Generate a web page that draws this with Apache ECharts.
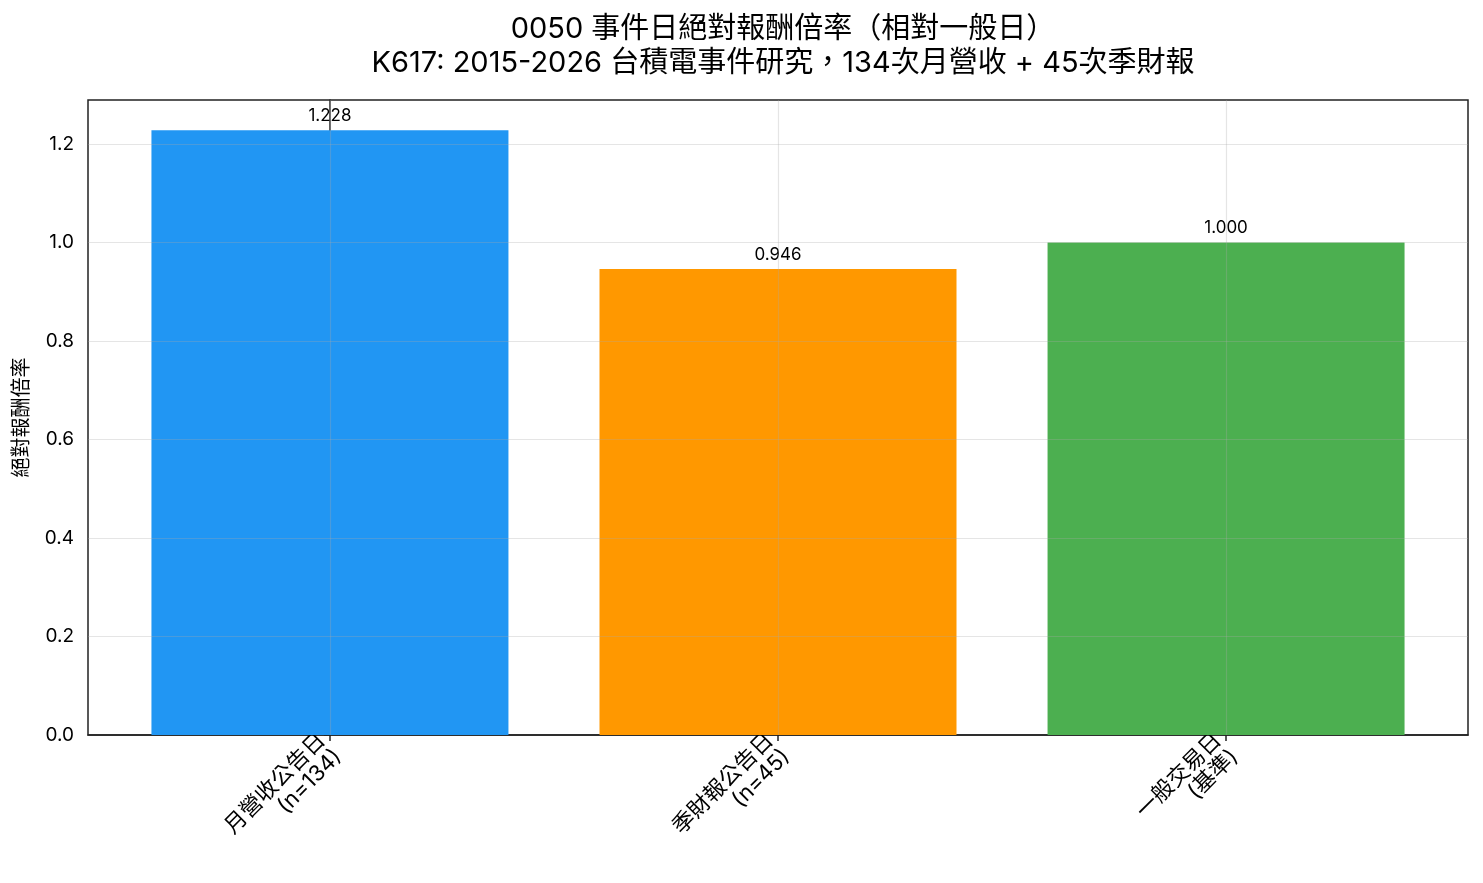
<!DOCTYPE html>
<html>
<head>
<meta charset="utf-8">
<script src="https://cdn.jsdelivr.net/npm/echarts@6/dist/echarts.min.js"></script>
<style>
  html, body { margin: 0; padding: 0; background: #fff; }
  #chart { width: 1483px; height: 883px; }
</style>
</head>
<body>
<div id="chart"></div>
<script>
// data
var categories = ['月營收公告日\n(n=134)', '季財報公告日\n(n=45)', '一般交易日\n(基準)'];
var values = [1.228, 0.946, 1.000];
var yTicks = [0, 0.2, 0.4, 0.6, 0.8, 1.0, 1.2];
var barColors = ['#2196F3', '#FF9800', '#4CAF50'];

var FONT = 'Inter, "Noto Sans CJK TC", sans-serif';
var chart = echarts.init(document.getElementById('chart'));

var barData = values.map(function (v, i) {
    return { value: [i, v], itemStyle: { color: barColors[i] } };
});

// grid lines are drawn over the bars, like the original
var gridLines = [];
categories.forEach(function (c, i) { gridLines.push({ xAxis: i }); });
yTicks.forEach(function (t) { if (t > 0) gridLines.push({ yAxis: t }); });

var option = {
    animation: false,
    textStyle: { fontFamily: FONT },
    title: {
        text: '0050 事件日絕對報酬倍率（相對一般日）\nK617: 2015-2026 台積電事件研究，134次月營收 + 45次季財報',
        left: 778,   // centred over the plot area
        textAlign: 'center',
        top: 7,
        textStyle: { fontFamily: FONT, fontSize: 29, fontWeight: 'normal', color: '#000', lineHeight: 34 }
    },
    grid: {
        left: 88, right: 15, top: 100, bottom: 148,
        show: true, borderColor: '#222', borderWidth: 1.5, backgroundColor: 'transparent'
    },
    xAxis: {
        type: 'value',
        min: -0.54,
        max: 2.54,
        axisLine: { show: true, lineStyle: { color: '#222', width: 1.5 } },
        axisTick: { show: true, customValues: [0, 1, 2], length: 6, lineStyle: { color: '#222', width: 1.5 } },
        splitLine: { show: false },
        axisLabel: {
            customValues: [0, 1, 2],
            rotate: 45,
            margin: 10,
            fontSize: 22,
            lineHeight: 23,
            color: '#000',
            align: 'right',
            fontFamily: FONT,
            formatter: function (v) { return categories[Math.round(v)]; }
        }
    },
    yAxis: {
        type: 'value',
        min: 0,
        max: 1.2894,
        interval: 0.2,
        name: '絕對報酬倍率',
        nameLocation: 'middle',
        nameGap: 56,
        nameTextStyle: { fontSize: 20, color: '#000', fontFamily: FONT },
        axisLine: { show: true, lineStyle: { color: '#222', width: 1.5 } },
        axisTick: { show: true, length: 6, lineStyle: { color: '#222', width: 1.5 } },
        splitLine: { show: false },
        axisLabel: {
            fontSize: 19, color: '#000', margin: 14, fontFamily: FONT,
            showMaxLabel: false,
            formatter: function (v) { return v.toFixed(1); }
        }
    },
    series: [{
        type: 'bar',
        barWidth: 357,
        data: barData,
        label: {
            show: true,
            position: 'top',
            distance: 6,
            fontSize: 17,
            color: '#000',
            fontFamily: FONT,
            formatter: function (p) { return p.value[1].toFixed(3); }
        },
        markLine: {
            silent: true,
            symbol: ['none', 'none'],
            label: { show: false },
            lineStyle: { color: 'rgba(170,170,170,0.3)', width: 1.2, type: 'solid' },
            data: gridLines
        }
    }]
};

chart.setOption(option);
</script>
</body>
</html>
